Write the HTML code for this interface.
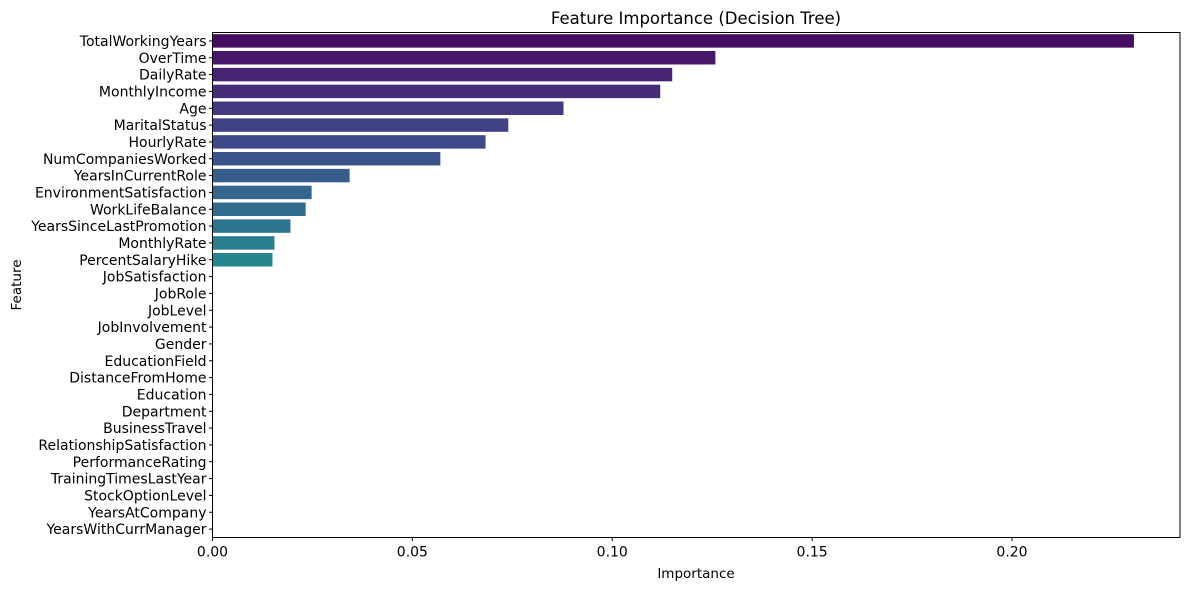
<!DOCTYPE html>
<html><head><meta charset="utf-8"><style>
body{margin:0;background:#fff;}
svg{display:block;font-family:"DejaVu Sans","Liberation Sans",sans-serif;}
</style></head><body>
<svg id="chart" width="1189" height="590" viewBox="0 0 1189 590" xmlns="http://www.w3.org/2000/svg">
<text x="696" y="24" text-anchor="middle" font-size="16.5" fill="#000">Feature Importance (Decision Tree)</text>
<text x="696" y="578" text-anchor="middle" font-size="13.5" fill="#000">Importance</text>
<text transform="translate(21,285) rotate(-90)" text-anchor="middle" font-size="13.5" fill="#000">Feature</text>
<g id="bars"></g><g id="yticks"></g><g id="xticks"></g>
<rect x="212.5" y="32.5" width="967.5" height="505" fill="none" stroke="#000" stroke-width="1"/>
</svg>
<script>
const features=["TotalWorkingYears","OverTime","DailyRate","MonthlyIncome","Age","MaritalStatus","HourlyRate","NumCompaniesWorked","YearsInCurrentRole","EnvironmentSatisfaction","WorkLifeBalance","YearsSinceLastPromotion","MonthlyRate","PercentSalaryHike","JobSatisfaction","JobRole","JobLevel","JobInvolvement","Gender","EducationField","DistanceFromHome","Education","Department","BusinessTravel","RelationshipSatisfaction","PerformanceRating","TrainingTimesLastYear","StockOptionLevel","YearsAtCompany","YearsWithCurrManager"];
const importance=[0.2305,0.1258,0.115,0.112,0.0878,0.074,0.0683,0.057,0.0343,0.0248,0.0233,0.0195,0.0155,0.015,0,0,0,0,0,0,0,0,0,0,0,0,0,0,0,0];
const xTicks=[0,0.05,0.10,0.15,0.20];
const xTickLabels=["0.00","0.05","0.10","0.15","0.20"];
</script>
<script>
(function(){
const NS="http://www.w3.org/2000/svg";
const plotTop=32.5,plotBottom=537.5,plotLeft=212.5;
const N=features.length;
const step=(plotBottom-plotTop)/N;
const xs=v=>plotLeft+v*3997.5;
const ys=i=>plotTop+(i+0.5)*step;
const stops=["#440154","#482475","#414487","#355f8d","#2a788e","#21918c","#22a884","#44bf70","#7ad151","#bddf26","#fde725"];
function hx(h){return [1,3,5].map(k=>parseInt(h.substr(k,2),16));}
function viridis(t){const p=t*10,i=Math.min(9,Math.floor(p)),f=p-i;const a=hx(stops[i]),b=hx(stops[i+1]);return "rgb("+a.map((v,k)=>Math.round(v+(b[k]-v)*f)).join(",")+")";}
const gb=document.getElementById("bars"),gy=document.getElementById("yticks"),gx=document.getElementById("xticks");
features.forEach((c,i)=>{
  const v=importance[i];
  const r=document.createElementNS(NS,"rect");
  
  
  r.setAttribute("x",plotLeft);r.setAttribute("y",ys(i)-step*0.4);
  r.setAttribute("width",Math.max(0,xs(v)-plotLeft));r.setAttribute("height",step*0.8);
  r.setAttribute("fill",viridis((i+1)/(N+1)));
  gb.appendChild(r);
  const l=document.createElementNS(NS,"line");
  
  
  l.setAttribute("x1",plotLeft-3.5);l.setAttribute("x2",plotLeft);l.setAttribute("y1",ys(i));l.setAttribute("y2",ys(i));l.setAttribute("stroke","#000");
  gy.appendChild(l);
  const t=document.createElementNS(NS,"text");
  
  
  t.setAttribute("x",plotLeft-6);t.setAttribute("y",ys(i)+5);t.setAttribute("text-anchor","end");t.setAttribute("font-size","14");
  t.textContent=c;gy.appendChild(t);
});
xTicks.forEach((v,i)=>{
  const l=document.createElementNS(NS,"line");
  
  
  l.setAttribute("x1",xs(v));l.setAttribute("x2",xs(v));l.setAttribute("y1",plotBottom);l.setAttribute("y2",plotBottom+3.5);l.setAttribute("stroke","#000");
  gx.appendChild(l);
  const t=document.createElementNS(NS,"text");
  
  
  t.setAttribute("x",xs(v));t.setAttribute("y",plotBottom+19);t.setAttribute("text-anchor","middle");t.setAttribute("font-size","14");
  t.textContent=xTickLabels[i];gx.appendChild(t);
});
})();
</script>
</body></html>
